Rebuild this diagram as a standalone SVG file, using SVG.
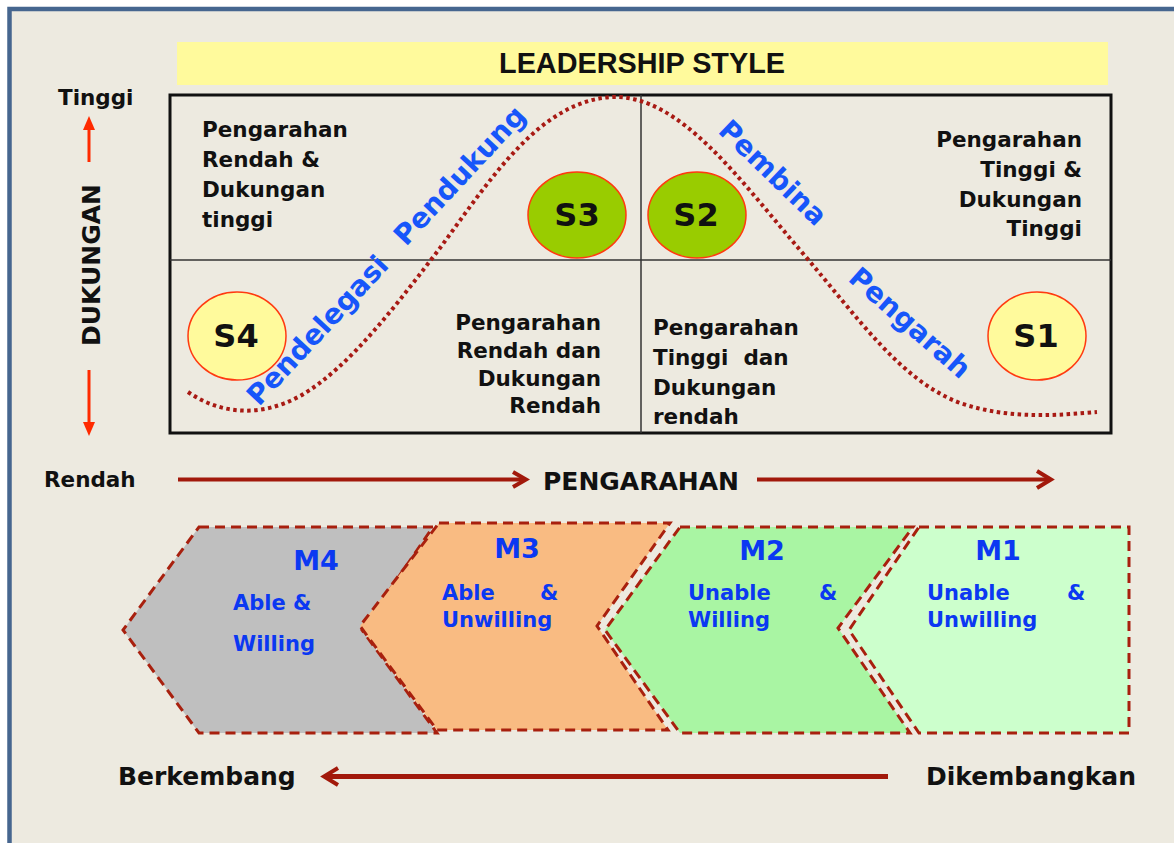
<svg xmlns="http://www.w3.org/2000/svg" width="1174" height="843" viewBox="0 0 1174 843">
<style>
.t{font-family:"DejaVu Sans","Verdana",sans-serif;font-weight:bold;fill:#111}
.q{font-size:21.5px}
.b{font-family:"DejaVu Sans","Verdana",sans-serif;font-weight:bold;fill:#1756FA;font-size:28px}
.c{font-family:"DejaVu Sans","Verdana",sans-serif;font-weight:bold;fill:#0B38F2}
.chev{stroke:#A8200E;stroke-width:3;stroke-dasharray:10 6}
.ell{stroke:#FF3A10;stroke-width:1.5}
.arr{stroke:#A2190B;fill:none;stroke-linecap:butt}
.red{stroke:#FF2A00;stroke-width:3}
</style>
<rect x="0" y="0" width="1174" height="843" fill="#ffffff"/>
<rect x="9.5" y="9" width="1200" height="900" fill="#EDEAE0" stroke="#46668F" stroke-width="4.5"/>

<g id="title">
<rect x="177" y="42" width="931" height="43" fill="#FFFA9C"/>
<text x="642" y="73" text-anchor="middle" font-family="Liberation Sans, Arial, sans-serif" font-weight="bold" font-size="28.8" fill="#111">LEADERSHIP STYLE</text>
</g>

<g id="grid">
<rect x="170" y="95" width="941" height="338" fill="none" stroke="#111" stroke-width="3"/>
<line x1="170" y1="260" x2="1111" y2="260" stroke="#333" stroke-width="1.5"/>
<line x1="641" y1="95" x2="641" y2="433" stroke="#333" stroke-width="1.5"/>
</g>

<g id="connectors">
<path d="M188,392 C220,414 260,418 300,396 C350,368 400,300 440,248 C490,180 540,100 613,97 C680,95 740,180 800,250 C860,320 900,380 960,403 C1010,420 1060,415 1097,412" fill="none" stroke="#A81A14" stroke-width="4" stroke-dasharray="3.5 3.5"/>
<line class="red" x1="89" y1="162" x2="89" y2="127"/>
<polygon points="89,116 83,130 95,130" fill="#FF2A00"/>
<line class="red" x1="89" y1="370" x2="89" y2="424"/>
<polygon points="89,436 83,422 95,422" fill="#FF2A00"/>
<line class="arr" x1="178" y1="479.5" x2="524" y2="479.5" stroke-width="4"/>
<polyline class="arr" points="513,472 526,479.5 513,487" stroke-width="4"/>
<line class="arr" x1="757" y1="479.5" x2="1050" y2="479.5" stroke-width="4"/>
<polyline class="arr" points="1037,471 1051,479.5 1037,488" stroke-width="4"/>
<line class="arr" x1="888" y1="776.5" x2="326" y2="776.5" stroke-width="5"/>
<polyline class="arr" points="338,768 324,776.5 338,785" stroke-width="4"/>
</g>

<g id="axis-labels">
<text class="t q" x="58" y="105">Tinggi</text>
<text class="t" x="100" y="265" font-size="25" text-anchor="middle" transform="rotate(-90 100 265)">DUKUNGAN</text>
<text class="t q" x="44" y="487">Rendah</text>
<text class="t" x="543" y="490" font-size="25">PENGARAHAN</text>
<text class="t" x="118" y="785" font-size="25">Berkembang</text>
<text class="t" x="926" y="785" font-size="25">Dikembangkan</text>
</g>

<g id="q-top-left">
<text class="t q" x="202" y="137">Pengarahan</text>
<text class="t q" x="202" y="167">Rendah &amp;</text>
<text class="t q" x="202" y="197">Dukungan</text>
<text class="t q" x="202" y="227">tinggi</text>
</g>
<g id="q-top-right">
<text class="t q" x="1082" y="147" text-anchor="end">Pengarahan</text>
<text class="t q" x="1082" y="177" text-anchor="end">Tinggi &amp;</text>
<text class="t q" x="1082" y="207" text-anchor="end">Dukungan</text>
<text class="t q" x="1082" y="236" text-anchor="end">Tinggi</text>
</g>
<g id="q-bottom-left">
<text class="t q" x="601" y="330" text-anchor="end">Pengarahan</text>
<text class="t q" x="601" y="358" text-anchor="end">Rendah dan</text>
<text class="t q" x="601" y="386" text-anchor="end">Dukungan</text>
<text class="t q" x="601" y="413" text-anchor="end">Rendah</text>
</g>
<g id="q-bottom-right">
<text class="t q" x="653" y="335">Pengarahan</text>
<text class="t q" x="653" y="365" xml:space="preserve">Tinggi  dan</text>
<text class="t q" x="653" y="395">Dukungan</text>
<text class="t q" x="653" y="424">rendah</text>
</g>

<g id="style-labels">
<text class="b" x="259" y="407" transform="rotate(-47 259 407)">Pendelegasi</text>
<text class="b" x="406" y="247" transform="rotate(-47 406 247)">Pendukung</text>
<text class="b" x="717" y="132" transform="rotate(44 717 132)">Pembina</text>
<text class="b" x="847" y="280" transform="rotate(41.5 847 280)">Pengarah</text>
</g>

<g id="S3">
<ellipse class="ell" cx="577" cy="215" rx="49" ry="43" fill="#99CC00"/>
<text class="t" x="577" y="226" font-size="32" text-anchor="middle">S3</text>
</g>
<g id="S2">
<ellipse class="ell" cx="697" cy="215" rx="49" ry="43" fill="#99CC00"/>
<text class="t" x="696" y="226" font-size="32" text-anchor="middle">S2</text>
</g>
<g id="S4">
<ellipse class="ell" cx="237" cy="336" rx="49" ry="44" fill="#FFFA9C"/>
<text class="t" x="236" y="347" font-size="32" text-anchor="middle">S4</text>
</g>
<g id="S1">
<ellipse class="ell" cx="1037" cy="336" rx="49" ry="44" fill="#FFFA9C"/>
<text class="t" x="1036" y="347" font-size="32" text-anchor="middle">S1</text>
</g>

<g id="M4">
<polygon class="chev" points="199,527 433,527 362,630 437,733 199,733 123,630" fill="#BFBFBF"/>
<text class="c" x="316" y="570" font-size="27" text-anchor="middle">M4</text>
<text class="c" x="233" y="610" font-size="21">Able &amp;</text>
<text class="c" x="233" y="651" font-size="21">Willing</text>
</g>
<g id="M3">
<polygon class="chev" points="439,523 670,523 597,626 668,730 437,730 360,626" fill="#F9BB82"/>
<text class="c" x="517" y="558" font-size="27" text-anchor="middle">M3</text>
<text class="c" x="442" y="600" font-size="21">Able</text>
<text class="c" x="540" y="600" font-size="21">&amp;</text>
<text class="c" x="442" y="627" font-size="21">Unwilling</text>
</g>
<g id="M2">
<polygon class="chev" points="680,527 913,527 838,628 910,733 680,733 605,630" fill="#A9F5A3"/>
<text class="c" x="762" y="560" font-size="27" text-anchor="middle">M2</text>
<text class="c" x="688" y="600" font-size="21">Unable</text>
<text class="c" x="819" y="600" font-size="21">&amp;</text>
<text class="c" x="688" y="627" font-size="21">Willing</text>
</g>
<g id="M1">
<polygon class="chev" points="919,527 1129,527 1129,733 919,733 849,630" fill="#CCFFCC"/>
<text class="c" x="998" y="560" font-size="27" text-anchor="middle">M1</text>
<text class="c" x="927" y="600" font-size="21">Unable</text>
<text class="c" x="1067" y="600" font-size="21">&amp;</text>
<text class="c" x="927" y="627" font-size="21">Unwilling</text>
</g>
</svg>
